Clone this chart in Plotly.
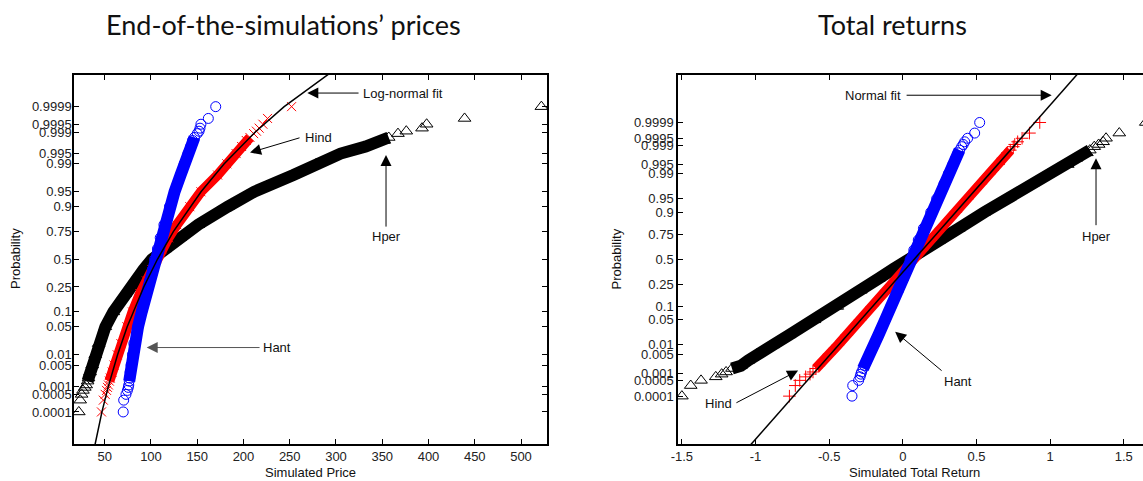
import plotly.graph_objects as go
from statistics import NormalDist

_nd = NormalDist()


def probit(p):
    return _nd.inv_cdf(p)


W, H = 1143, 481

# ---------------- data ----------------
# plotting positions (i-0.5)/n for the sample tails and intermediate levels
prob_levels = [0.0001, 0.0003, 0.0005, 0.0007, 0.0009, 0.0011, 0.0015, 0.0019,
               0.003, 0.005, 0.01, 0.02, 0.05, 0.1, 0.2, 0.3, 0.4, 0.5, 0.6, 0.7,
               0.8, 0.9, 0.95, 0.98, 0.99, 0.995, 0.997,
               0.9981, 0.9985, 0.9989, 0.9991, 0.9993, 0.9995, 0.9997, 0.9999]

# End-of-the-simulations' prices
price_hper = [22, 23.5, 25, 26.5, 28.5, 30, 31.5, 32.5,
              34.2, 36.5, 39.8, 43.5, 50.7, 59.3, 71.9, 82.2, 91.9, 101, 115.5, 131.3,
              151, 183, 211.5, 254, 278.6, 305, 332,
              352, 357, 367, 376, 393, 398, 439, 522]
price_hind = [46.5, 48.5, 50.5, 52, 53, 54, 55, 56,
              58, 60, 63.5, 67.5, 74, 80, 88, 95, 101, 106, 112, 119,
              128, 142, 154, 172, 182, 192, 198,
              203, 207, 211, 214, 217, 221, 226, 252]
price_hant = [70, 70.5, 73, 74.5, 75.5, 76, 76.5, 77,
              77.5, 78.5, 80, 81.5, 86, 90, 95, 98.5, 101.5, 104, 107, 110,
              114, 120, 125.5, 132, 136, 140, 143,
              145, 147, 150, 152, 153, 154, 162, 170]
price_fit_p = [1e-6, 0.0001, 0.001, 0.01, 0.05, 0.25, 0.5, 0.75, 0.95, 0.99, 0.999, 0.9999, 0.999999]
price_fit_x = [37.3, 47.0, 54.0, 63.9, 74.3, 92.2, 107.0, 124.2, 154.1, 179.2, 212.2, 244.0, 306.7]

# Total returns
ret_hper = [-1.50, -1.44, -1.37, -1.27, -1.23, -1.20, -1.16, -1.10,
            -1.05, -0.99, -0.88, -0.77, -0.60, -0.445, -0.285, -0.165, -0.06, 0.035, 0.13, 0.25,
            0.38, 0.555, 0.71, 0.88, 0.99, 1.12, 1.18,
            1.25, 1.27, 1.30, 1.33, 1.36, 1.38, 1.47, 1.65]
ret_hind = [-0.77, -0.73, -0.70, -0.66, -0.63, -0.61, -0.59, -0.57,
            -0.54, -0.50, -0.44, -0.38, -0.29, -0.21, -0.11, -0.04, 0.02, 0.075, 0.13, 0.19,
            0.26, 0.36, 0.44, 0.53, 0.59, 0.65, 0.68,
            0.71, 0.73, 0.75, 0.76, 0.78, 0.81, 0.86, 0.93]
ret_hant = [-0.345, -0.34, -0.30, -0.29, -0.285, -0.28, -0.27, -0.26,
            -0.245, -0.225, -0.195, -0.165, -0.12, -0.08, -0.03, 0.005, 0.03, 0.05, 0.075, 0.105,
            0.14, 0.19, 0.23, 0.28, 0.31, 0.34, 0.36,
            0.375, 0.385, 0.40, 0.41, 0.42, 0.44, 0.488, 0.522]
ret_fit_p = [1e-7, 0.9999999]
ret_fit_x = [-1.068, 1.222]

prob_ticks = [0.0001, 0.0005, 0.001, 0.005, 0.01, 0.05, 0.1, 0.25, 0.5, 0.75,
              0.9, 0.95, 0.99, 0.995, 0.999, 0.9995, 0.9999]
prob_tick_text = ["0.0001", "0.0005", "0.001", "0.005", "0.01", "0.05", "0.1", "0.25", "0.5",
                  "0.75", "0.9", "0.95", "0.99", "0.995", "0.999", "0.9995", "0.9999"]
price_ticks = [50, 100, 150, 200, 250, 300, 350, 400, 450, 500]
return_ticks = [-1.5, -1, -0.5, 0, 0.5, 1, 1.5]
return_tick_text = ["-1.5", "-1", "-0.5", "0", "0.5", "1", "1.5"]

# ---------------- figure ----------------
z_levels = [probit(p) for p in prob_levels]
body = [i for i, p in enumerate(prob_levels) if 0.0015 <= p <= 0.9985]

FONT = "Liberation Sans, Arial, sans-serif"
fig = go.Figure()

styles = [
    ("Hper", "black", "triangle-up-open", 11, 12),
    ("Hind", "red", None, 9, 10),
    ("Hant", "blue", "circle-open", 10, 12),
]


def add_panel(series_list, fit_p, fit_x, xa, ya, cross_symbol):
    for (name, color, sym, msize, bw), vals in zip(styles, series_list):
        symbol = sym if sym else cross_symbol
        fig.add_trace(go.Scatter(
            x=[vals[i] for i in body], y=[z_levels[i] for i in body],
            mode="lines", line=dict(color=color, width=bw), xaxis=xa, yaxis=ya,
            showlegend=False, hoverinfo="skip"))
        fig.add_trace(go.Scatter(
            x=vals, y=z_levels, mode="markers", name=name, xaxis=xa, yaxis=ya,
            marker=dict(symbol=symbol, size=msize, color=color,
                        line=dict(color=color, width=1)),
            showlegend=False))
    fig.add_trace(go.Scatter(
        x=fit_x, y=[probit(p) for p in fit_p], mode="lines", xaxis=xa, yaxis=ya,
        line=dict(color="black", width=1.5), showlegend=False))


add_panel([price_hper, price_hind, price_hant], price_fit_p, price_fit_x, "x", "y", "x-thin-open")
add_panel([ret_hper, ret_hind, ret_hant], ret_fit_p, ret_fit_x, "x2", "y2", "cross-thin-open")

y_dom = [1 - 444 / H, 1 - 75 / H]
axis_common = dict(showgrid=False, zeroline=False, showline=True, linecolor="black",
                   linewidth=1.5, ticks="inside", ticklen=5, tickcolor="black",
                   automargin=False,
                   tickfont=dict(family=FONT, size=13, color="#222"))
ytick_vals = [probit(p) for p in prob_ticks]

fig.update_layout(
    template="none",
    width=W, height=H, margin=dict(l=0, r=0, t=0, b=0, pad=0),
    paper_bgcolor="white", plot_bgcolor="white",
    xaxis=dict(domain=[74 / W, 547 / W], range=[16.8, 528.1], tickvals=price_ticks,
               mirror="ticks", anchor="y", **axis_common),
    yaxis=dict(domain=y_dom, range=[-4.5, 4.49], tickvals=ytick_vals, ticktext=prob_tick_text,
               mirror="ticks", anchor="x", ticklabelstandoff=-2, **axis_common),
    xaxis2=dict(domain=[678 / W, 1.0], range=[-1.5265, 1.631], tickvals=return_ticks,
                ticktext=return_tick_text, mirror="ticks", anchor="y2", **axis_common),
    yaxis2=dict(domain=y_dom, range=[-5.02, 5.01], tickvals=ytick_vals, ticktext=prob_tick_text,
                mirror=False, anchor="x2", **axis_common),
)


def px2paper(px, py):
    return px / W, 1 - py / H


annotations = []


def text_ann(text, px, py, size=13, angle=0, family=FONT, xanchor="center"):
    x, y = px2paper(px, py)
    annotations.append(dict(text=text, x=x, y=y, xref="paper", yref="paper", showarrow=False,
                            xanchor=xanchor, yanchor="middle", textangle=angle,
                            font=dict(family=family, size=size, color="#111")))


def arrow(xr, yr, tip, tail, color="black"):
    annotations.append(dict(text="", x=tip[0], y=tip[1], ax=tail[0], ay=tail[1],
                            xref=xr, yref=yr, axref=xr, ayref=yr, showarrow=True,
                            arrowhead=2, arrowsize=2.2, arrowwidth=1, arrowcolor=color))


def data_text(xr, yr, text, x, y, xanchor="center"):
    annotations.append(dict(text=text, x=x, y=y, xref=xr, yref=yr, showarrow=False,
                            xanchor=xanchor, yanchor="middle",
                            font=dict(family=FONT, size=13, color="#111")))


# titles
TFONT = "Lato, Open Sans, sans-serif"
text_ann("End-of-the-simulations’ prices", 283.5, 24, size=27, family=TFONT)
text_ann("Total returns", 892.5, 24, size=27, family=TFONT)
# axis titles
text_ann("Probability", 15, 259, size=13, angle=-90)
text_ann("Probability", 615.5, 259, size=13, angle=-90)
text_ann("Simulated Price", 310.5, 472, size=13)
text_ann("Simulated Total Return", 914.5, 472, size=13)

# left panel notes
arrow("x", "y", (269.0, 4.05), (326.0, 4.05))
data_text("x", "y", "Log-normal fit", 327.0, 4.05, "left")
arrow("x", "y", (207.1, 2.60), (262.2, 2.97))
data_text("x", "y", "Hind", 263.8, 2.97, "left")
arrow("x", "y", (354.1, 2.54), (354.1, 0.76))
data_text("x", "y", "Hper", 354.1, 0.55)
arrow("x", "y", (95.4, -2.15), (219.0, -2.15), color="#555")
data_text("x", "y", "Hant", 219.0, -2.15, "left")

# right panel notes
arrow("x2", "y2", (1.011, 4.46), (0.0156, 4.46))
data_text("x2", "y2", "Normal fit", 0.0, 4.46, "right")
arrow("x2", "y2", (-0.711, -3.025), (-1.140, -3.92))
data_text("x2", "y2", "Hind", -1.146, -3.92, "right")
arrow("x2", "y2", (-0.052, -1.97), (0.2736, -3.06))
data_text("x2", "y2", "Hant", 0.375, -3.31)
arrow("x2", "y2", (1.312, 2.75), (1.312, 0.887))
data_text("x2", "y2", "Hper", 1.312, 0.615)

fig.update_layout(annotations=annotations)
fig.write_html("out.html", config={"displayModeBar": False},
               post_script="document.body.style.margin='0';document.body.style.overflow='hidden';")
